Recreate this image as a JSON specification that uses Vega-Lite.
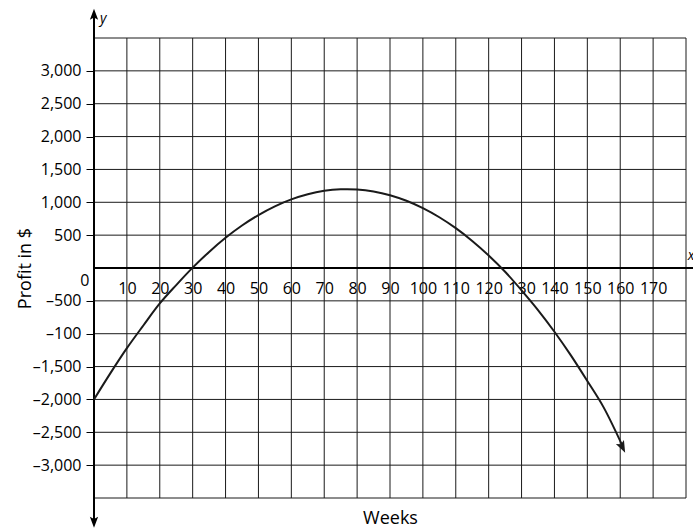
{
  "$schema": "https://vega.github.io/schema/vega-lite/v6.json",
  "width": 592,
  "height": 460,
  "autosize": {"type": "none"},
  "padding": {"left": 94, "top": 38, "right": 7, "bottom": 31},
  "background": "white",
  "config": {"view": {"stroke": null}, "font": "Open Sans", "axis": {"labelOverlap": false, "labelBound": false, "labelFlush": false}},
  "datasets": {
    "vgrid": [{"x":10},{"x":20},{"x":30},{"x":40},{"x":50},{"x":60},{"x":70},{"x":80},{"x":90},{"x":100},{"x":110},{"x":120},{"x":130},{"x":140},{"x":150},{"x":160},{"x":170},{"x":180}],
    "hgrid": [{"y":-3500},{"y":-3000},{"y":-2500},{"y":-2000},{"y":-1500},{"y":-1000},{"y":-500},{"y":500},{"y":1000},{"y":1500},{"y":2000},{"y":2500},{"y":3000},{"y":3500}],
    "curve": [
      {"x":0,"y":-2000},{"x":5,"y":-1600},{"x":10,"y":-1220},{"x":15,"y":-875},{"x":20,"y":-540},{"x":25,"y":-260},{"x":30,"y":5},{"x":35,"y":245},{"x":40,"y":460},{"x":45,"y":647},{"x":50,"y":806},{"x":55,"y":939},{"x":60,"y":1044},{"x":65,"y":1122},{"x":70,"y":1174},{"x":75,"y":1198},{"x":77,"y":1200},{"x":80,"y":1195},{"x":85,"y":1165},{"x":90,"y":1108},{"x":95,"y":1023},{"x":100,"y":911},{"x":105,"y":772},{"x":110,"y":606},{"x":115,"y":412},{"x":120,"y":191},{"x":125,"y":-57},{"x":130,"y":-340},{"x":135,"y":-640},{"x":140,"y":-970},{"x":145,"y":-1330},{"x":150,"y":-1720},{"x":155,"y":-2125},{"x":160.8,"y":-2720}
    ]
  },
  "layer": [
    {
      "data": {"name": "vgrid"},
      "mark": {"type": "rule", "stroke": "#1a1a1a", "strokeWidth": 1},
      "encoding": {
        "x": {
          "field": "x", "type": "quantitative",
          "scale": {"domain": [0, 180], "nice": false, "zero": false},
          "axis": {
            "values": [10,20,30,40,50,60,70,80,90,100,110,120,130,140,150,160,170],
            "tickCount": 100,
            "orient": "bottom", "offset": -230,
            "domain": false, "ticks": false, "tickSize": 0, "grid": false,
            "labelFont": "Open Sans", "labelFontSize": 16, "labelColor": "black",
            "labelBaseline": "alphabetic", "labelPadding": 25, "labelAlign": "center",
            "labelFlush": false, "labelOverlap": false,
            "title": "Weeks", "titleFont": "Open Sans", "titleFontSize": 18,
            "titleFontWeight": "normal", "titleColor": "black",
            "titleX": 296, "titleY": 255, "titleBaseline": "alphabetic", "titleAlign": "center"
          }
        }
      }
    },
    {
      "data": {"name": "hgrid"},
      "mark": {"type": "rule", "stroke": "#1a1a1a", "strokeWidth": 1},
      "encoding": {
        "y": {
          "field": "y", "type": "quantitative",
          "scale": {"domain": [-3500, 3500], "nice": false, "zero": false},
          "axis": {
            "values": [-3000,-2500,-2000,-1500,-1000,-500,0,500,1000,1500,2000,2500,3000],
            "tickCount": 100,
            "orient": "left",
            "domain": false, "ticks": true, "tickSize": 8, "tickColor": "black", "tickWidth": 1,
            "tickOpacity": {"condition": {"test": "datum.value == 0", "value": 0}, "value": 1},
            "grid": false,
            "labelFont": "Open Sans", "labelFontSize": 16, "labelColor": "black",
            "labelAlign": "right", "labelBaseline": "middle",
            "labelPadding": {"condition": {"test": "datum.value == 0", "value": -3}, "value": 5},
            "labelOffset": {"condition": {"test": "datum.value == 0", "value": 12}, "value": 0},
            "labelOverlap": false, "labelFlush": false,
            "labelExpr": "datum.value == -1000 ? '–100' : (datum.value < 0 ? '–' + format(-datum.value, ',') : format(datum.value, ','))",
            "title": "Profit in $", "titleFont": "Open Sans", "titleFontSize": 18,
            "titleFontWeight": "normal", "titleColor": "black", "titleAngle": -90,
            "titleX": -64, "titleY": 230, "titleBaseline": "alphabetic", "titleAlign": "center"
          }
        }
      }
    },
    {
      "data": {"values": [{}]},
      "mark": {"type": "rule", "stroke": "black", "strokeWidth": 2},
      "encoding": {
        "x": {"datum": 0, "type": "quantitative"},
        "y": {"datum": 3860, "type": "quantitative"},
        "y2": {"datum": -3860}
      }
    },
    {
      "data": {"values": [{}]},
      "mark": {"type": "rule", "stroke": "black", "strokeWidth": 2},
      "encoding": {
        "x": {"datum": 0, "type": "quantitative"},
        "x2": {"datum": 184},
        "y": {"datum": 0, "type": "quantitative"}
      }
    },
    {
      "data": {"values": [{}]},
      "mark": {"type": "point", "shape": "M0,-1L0.75,1L0,0.6L-0.75,1Z", "filled": true, "fill": "black", "stroke": null, "opacity": 1, "size": 121},
      "encoding": {
        "x": {"datum": 0, "type": "quantitative"},
        "y": {"datum": 3862, "type": "quantitative"}
      }
    },
    {
      "data": {"values": [{}]},
      "mark": {"type": "point", "shape": "M0,-1L0.75,1L0,0.6L-0.75,1Z", "angle": 180, "filled": true, "fill": "black", "stroke": null, "opacity": 1, "size": 121},
      "encoding": {
        "x": {"datum": 0, "type": "quantitative"},
        "y": {"datum": -3868, "type": "quantitative"}
      }
    },
    {
      "data": {"name": "curve"},
      "mark": {"type": "line", "stroke": "#1a1a1a", "strokeWidth": 2, "interpolate": "monotone"},
      "encoding": {
        "x": {"field": "x", "type": "quantitative"},
        "y": {"field": "y", "type": "quantitative"}
      }
    },
    {
      "data": {"values": [{}]},
      "mark": {"type": "point", "shape": "M0,-1L0.75,1L0,0.6L-0.75,1Z", "angle": 154, "filled": true, "fill": "#1a1a1a", "stroke": null, "opacity": 1, "size": 144},
      "encoding": {
        "x": {"datum": 160.7, "type": "quantitative"},
        "y": {"datum": -2730, "type": "quantitative"}
      }
    },
    {
      "data": {"values": [{}]},
      "mark": {"type": "text", "text": "y", "font": "Open Sans", "fontStyle": "italic", "fontSize": 14, "align": "left", "baseline": "alphabetic", "color": "black"},
      "encoding": {
        "x": {"datum": 1.8, "type": "quantitative"},
        "y": {"datum": 3732, "type": "quantitative"}
      }
    },
    {
      "data": {"values": [{}]},
      "mark": {"type": "text", "text": "x", "font": "Open Sans", "fontStyle": "italic", "fontSize": 14, "align": "left", "baseline": "alphabetic", "color": "black"},
      "encoding": {
        "x": {"datum": 180.5, "type": "quantitative"},
        "y": {"datum": 126, "type": "quantitative"}
      }
    }
  ]
}
